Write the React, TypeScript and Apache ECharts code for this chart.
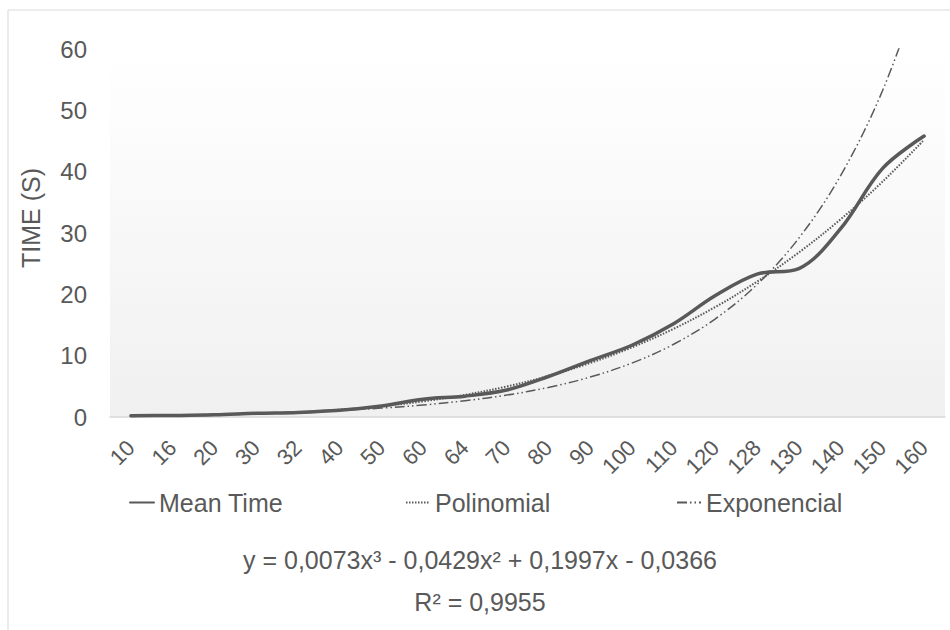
import React, { useEffect, useRef } from "react";
import * as echarts from "echarts";

const categories = ["10", "16", "20", "30", "32", "40", "50", "60", "64", "70", "80", "90", "100", "110", "120", "128", "130", "140", "150", "160"];
const meanTime = [0.2, 0.25, 0.35, 0.6, 0.75, 1.1, 1.8, 2.9, 3.4, 4.4, 6.6, 9.2, 11.7, 15.2, 19.8, 23.3, 24.2, 30.7, 40.5, 45.8];
const polinomial = [0.13, 0.25, 0.37, 0.54, 0.8, 1.19, 1.76, 2.55, 3.61, 4.97, 6.69, 8.8, 11.35, 14.38, 17.94, 22.08, 26.83, 32.23, 38.34, 45.2];
const exponencial = [0.24, 0.32, 0.44, 0.59, 0.8, 1.08, 1.45, 1.96, 2.65, 3.57, 4.82, 6.51, 8.79, 11.86, 16.01, 21.61, 29.17, 39.37, 53.15, 71.75];
const yMin = 0;
const yMax = 60;
const yStep = 10;
const yAxisName = "TIME (S)";
const seriesNames = ["Mean Time", "Polinomial", "Exponencial"];
const equation = "y = 0,0073x³ - 0,0429x² + 0,1997x - 0,0366";
const rSquared = "R² = 0,9955";

const FONT = "'Liberation Sans', Arial, sans-serif";
const TXT = "#595959";
const LINE = "#595959";

export default function App() {
  const ref = useRef<HTMLDivElement>(null);

  useEffect(() => {
    if (!ref.current) return;
    const chart = echarts.init(ref.current, undefined, { renderer: "svg" });
    const legendBase = {
      top: 485,
      itemWidth: 24,
      itemHeight: 14,
      itemGap: 0,
      itemStyle: { opacity: 0 },
      textStyle: { fontSize: 25, color: TXT, fontFamily: FONT },
    };
    const option: any = {
      animation: false,
      backgroundColor: "#ffffff",
      textStyle: { fontFamily: FONT, color: TXT },
      grid: {
        left: 110,
        right: 5,
        top: 49,
        bottom: 213,
        show: true,
        borderWidth: 0,
        backgroundColor: new echarts.graphic.LinearGradient(0, 0, 0, 1, [
          { offset: 0, color: "#ffffff" },
          { offset: 0.35, color: "#fafafa" },
          { offset: 1, color: "#f0f0f0" },
        ]),
      },
      xAxis: {
        type: "category",
        data: categories,
        boundaryGap: true,
        axisLine: { show: true, lineStyle: { color: "#d9d9d9", width: 1.5 } },
        axisTick: { show: false },
        axisLabel: {
          rotate: 45,
          interval: 0,
          margin: 27,
          fontSize: 22,
          color: TXT,
          fontFamily: FONT,
        },
        splitLine: { show: false },
      },
      yAxis: {
        type: "value",
        min: yMin,
        max: yMax,
        interval: yStep,
        axisLine: { show: false },
        axisTick: { show: false },
        splitLine: { show: false },
        axisLabel: { fontSize: 24, color: TXT, margin: 23, fontFamily: FONT },
      },
      legend: [
        { ...legendBase, data: [seriesNames[0]], left: 124 },
        { ...legendBase, data: [seriesNames[1]], left: 400 },
        { ...legendBase, data: [seriesNames[2]], left: 671 },
      ],
      title: [
        {
          text: equation,
          left: 475,
          top: 542,
          textAlign: "center",
          textStyle: { fontSize: 25, fontWeight: "normal", color: TXT, fontFamily: FONT },
        },
        {
          text: rSquared,
          left: 475,
          top: 584,
          textAlign: "center",
          textStyle: { fontSize: 25, fontWeight: "normal", color: TXT, fontFamily: FONT },
        },
      ],
      graphic: [
        {
          type: "rect",
          silent: true,
          shape: { x: 8, y: 10, width: 980, height: 660 },
          style: { fill: "none", stroke: "#d9d9d9", lineWidth: 1 },
        },
        {
          type: "text",
          silent: true,
          x: 31,
          y: 218,
          rotation: Math.PI / 2,
          style: {
            text: yAxisName,
            fontSize: 25,
            fontFamily: FONT,
            fill: TXT,
            align: "center",
            verticalAlign: "middle",
          },
        },
      ],
      series: [
        {
          name: seriesNames[0],
          type: "line",
          data: meanTime,
          smooth: 0.35,
          symbol: "none",
          lineStyle: { color: LINE, width: 3.5, cap: "round" },
          itemStyle: { color: LINE },
          z: 5,
        },
        {
          name: seriesNames[1],
          type: "line",
          data: polinomial,
          smooth: 0.35,
          symbol: "none",
          lineStyle: { color: LINE, width: 2, type: [1.5, 1.5] },
          itemStyle: { color: LINE },
          z: 4,
        },
        {
          name: seriesNames[2],
          type: "line",
          data: exponencial,
          smooth: 0.35,
          symbol: "none",
          clip: true,
          lineStyle: { color: LINE, width: 1.5, type: [10, 3, 1.5, 3, 1.5, 3] },
          itemStyle: { color: LINE },
          z: 3,
        },
      ],
    };
    chart.setOption(option);
    return () => chart.dispose();
  }, []);

  return (
    <div
      ref={ref}
      style={{ position: "fixed", left: 0, top: 0, width: 950, height: 630, background: "#fff" }}
    />
  );
}
